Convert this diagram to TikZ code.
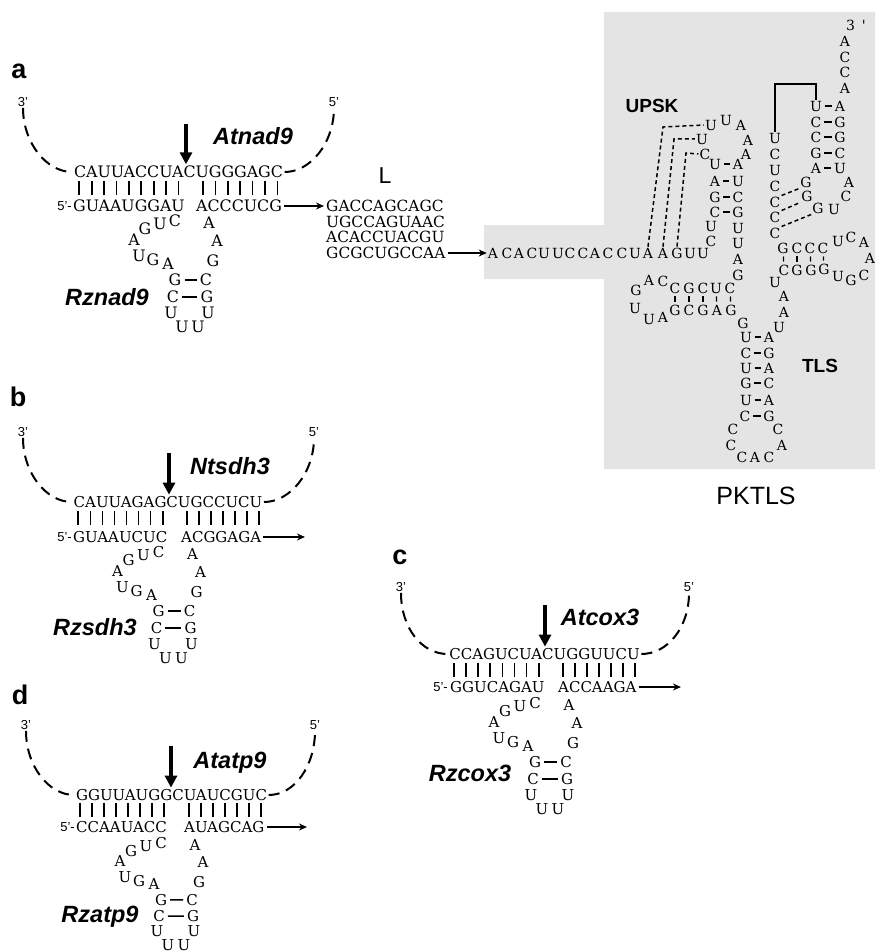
\documentclass[tikz,border=0pt]{standalone}
\usepackage{fontspec}
\setsansfont{Liberation Sans}
\newfontfamily\ntfont{DejaVu Serif}
\usetikzlibrary{arrows.meta,positioning}
\definecolor{pkgray}{HTML}{E4E4E4}
\tikzset{
  nt/.style={inner sep=1.5pt,font=\ntfont\fontsize{15}{15}\selectfont},
  pk/.style={inner sep=1pt,font=\ntfont\fontsize{14}{14}\selectfont},
  seqline/.style={nt,inner sep=0pt},
  endmark/.style={inner sep=1pt,font=\sffamily\fontsize{13}{13}\selectfont},
  panel/.style={inner sep=0pt,font=\sffamily\bfseries\fontsize{27}{27}\selectfont},
  gene/.style={inner sep=0pt,text depth=0pt,font=\sffamily\bfseries\itshape\fontsize{23.5}{23.5}\selectfont},
  boxlabel/.style={inner sep=0pt,font=\sffamily\bfseries\fontsize{19}{19}\selectfont},
  strand/.style={line width=2pt,dash pattern=on 11pt off 7pt},
  tick/.style={line width=1.7pt},
  pairline/.style={line width=1.5pt,shorten <=1.5pt,shorten >=1.5pt},
  stemtick/.style={line width=1.2pt,shorten <=2pt,shorten >=2pt},
  pkdash/.style={line width=1.5pt,dash pattern=on 4pt off 3pt},
  flow/.style={line width=1.4pt,-{Stealth[length=8pt,width=7pt]}},
  cut/.style={line width=3.2pt,-{Stealth[length=12pt,width=12pt,inset=0pt]}}
}
\newcommand{\hhmotif}[2]{
  \begin{scope}[#1]
    \foreach \nm/\xx/\yy/\ltr in {a/175/221/C,b/160/224/U,c/145/229/G,d/134/240/A,e/139/256/U,f/153/260/G,g/168/264/A,
      h/209/223/A,i/217/241/A,j/213/261/G,k/175/280/G,l/206/280/C,m/173/297/C,n/207/297/G,o/171/313/U,p/208/313/U,q/182/327/U,r/198/327/U}
      \node [nt] (#2\nm) at (\xx,\yy) {\ltr};
    \draw [pairline] (#2k) -- (#2l);
    \draw [pairline] (#2m) -- (#2n);
  \end{scope}
}
\newcommand{\hhstrand}[1]{
  \draw [strand] (#1three.south) .. controls +(0,35) and +(-26,0) .. (#1top.west);
  \draw [strand] (#1top.east) .. controls +(26,0) and +(0,35) .. (#1five.south);
}
\newcommand{\hhticks}[4]{
  \foreach \xx in {0,...,#3}
    \draw [tick] (#1+\xx*#2,#4) -- +(0,14);
}
\begin{document}
\begin{tikzpicture}[x=1pt,y=-1pt]
\useasboundingbox (0,0) rectangle (875,952);
\fill [pkgray] (604,12) -- (875,12) -- (875,469) -- (604,469) -- (604,279) -- (484,279) -- (484,225) -- (604,225) -- cycle;

% a
\begin{scope}[nt/.append style={font=\ntfont\fontsize{15.8}{15.8}\selectfont}]
\node [panel] (alabel) at (19,71) {a};
\node [endmark] (athree) at (23,102) {3'};
\node [endmark] (afive) at (334,102) {5'};
\node [nt] (atop) at (178.5,172) {CAUUACCUACUGGGAGC};
\node [seqline,anchor=west] (abotl) at (73,206) {GUAAUGGAU};
\node [seqline,anchor=west] (abotr) at (196,206) {ACCCUCG};
\node [endmark,left=0pt of abotl] (afivep) {5'-};
\node [gene] (agene) at (253,136) {Atnad9};
\node [gene] (arz) at (107,297) {Rznad9};
\coordinate (acut) at (186,124);
\hhstrand{a}
\hhticks{79.3}{12.4}{8}{181}
\hhticks{203}{12.4}{6}{181}
\draw [cut] (acut) -- (acut |- atop.north);
\hhmotif{shift={(0,0)}}{am}
\end{scope}

% L
\node [inner sep=0pt,font=\sffamily\fontsize{23}{23}\selectfont] (lname) at (385,176) {L};
\begin{scope}[nt/.append style={font=\ntfont\fontsize{15.4}{15.4}\selectfont}]
\node [seqline,anchor=west] (lone) at (326,206) {GACCAGCAGC};
\node [seqline,anchor=west] (ltwo) at (326,222) {UGCCAGUAAC};
\node [seqline,anchor=west] (lthree) at (326,237) {ACACCUACGU};
\node [seqline,anchor=west] (lfour) at (326,253) {GCGCUGCCAA};
\end{scope}
\draw [flow] ([xshift=2pt]abotr.east) -- ([xshift=-2pt]lone.west);

% b
\node [panel] (blabel) at (18,397) {b};
\node [endmark] (bthree) at (23,432) {3'};
\node [endmark] (bfive) at (314,432) {5'};
\node [nt] (btop) at (168,502) {CAUUAGAGCUGCCUCU};
\node [seqline,anchor=west] (bbotl) at (73,537) {GUAAUCUC};
\node [seqline,anchor=west] (bbotr) at (181,537) {ACGGAGA};
\node [endmark,left=0pt of bbotl] (bfivep) {5'-};
\node [gene] (bgene) at (230,466) {Ntsdh3};
\node [gene] (brz) at (95,627) {Rzsdh3};
\coordinate (bcut) at (169,453);
\coordinate (bend) at (305,537);
\hhstrand{b}
\hhticks{78.3}{12.05}{7}{511}
\hhticks{186.7}{12.05}{6}{511}
\draw [cut] (bcut) -- (bcut |- btop.north);
\draw [flow] ([xshift=2pt]bbotr.east) -- (bend);
\hhmotif{shift={(-16.5,331)}}{bm}

% c
\node [panel] (clabel) at (400,557) {c};
\node [endmark] (cthree) at (401,587) {3'};
\node [endmark] (cfive) at (689,587) {5'};
\node [nt] (ctop) at (544.5,654) {CCAGUCUACUGGUUCU};
\node [seqline,anchor=west] (cbotl) at (450,687) {GGUCAGAU};
\node [seqline,anchor=west] (cbotr) at (558,687) {ACCAAGA};
\node [endmark,left=1pt of cbotl] (cfivep) {5'-};
\node [gene] (cgene) at (600,617) {Atcox3};
\node [gene] (crz) at (470,773) {Rzcox3};
\coordinate (ccut) at (545,605);
\coordinate (cend) at (681,687);
\hhstrand{c}
\hhticks{454}{12.1}{7}{663}
\hhticks{562.7}{12}{6}{663}
\draw [cut] (ccut) -- (ccut |- ctop.north);
\draw [flow] ([xshift=2pt]cbotr.east) -- (cend);
\hhmotif{shift={(360,482)}}{cm}

% d
\node [panel] (dlabel) at (20,695) {d};
\node [endmark] (dthree) at (26,725) {3'};
\node [endmark] (dfive) at (315,725) {5'};
\node [nt] (dtop) at (171.5,795) {GGUUAUGGCUAUCGUC};
\node [seqline,anchor=west] (dbotl) at (76,827) {CCAAUACC};
\node [seqline,anchor=west] (dbotr) at (184,827) {AUAGCAG};
\node [endmark,left=0pt of dbotl] (dfivep) {5'-};
\node [gene] (dgene) at (230,760) {Atatp9};
\node [gene] (drz) at (100,914) {Rzatp9};
\coordinate (dcut) at (171,746);
\coordinate (dend) at (307,827);
\hhstrand{d}
\hhticks{80}{12}{7}{803}
\hhticks{189}{12}{6}{803}
\draw [cut] (dcut) -- (dcut |- dtop.north);
\draw [flow] ([xshift=2pt]dbotr.east) -- (dend);
\hhmotif{shift={(-14,631)},yscale=.96}{dm}

% PKTLS
\node [inner sep=0pt,font=\sffamily\fontsize{25}{25}\selectfont] (pkname) at (756,496) {PKTLS};
\node [boxlabel] (upsk) at (652,106) {UPSK};
\node [boxlabel] (tls) at (820,366) {TLS};
\node [pk] (pkend) at (856,25) {3 \,'};
\node [pk] (pkstart) at (493,253) {A};
\draw [flow] ([xshift=2pt]lfour.east) -- (pkstart.west);
\foreach \nm/\xx/\ltr in {s2/507/C,s3/519/A,s4/532/C,s5/544/U,s6/558/U,s7/570/C,s8/583/C,s9/595/A,s10/608/C,s11/622/C,s12/635/U,s13/648/A,s14/663/A,s15/677/G,s16/690/U,s17/703/U}
  \node [pk] (\nm) at (\xx,253) {\ltr};
\foreach \nm/\xx/\yy/\ltr in {e1/845/41/A,e2/845/57/C,e3/845/72/C,e4/845/88/A,
  ta1/816/106/U,tb1/840/106/A,ta2/816/122/C,tb2/840/122/G,ta3/816/137/C,tb3/840/137/G,ta4/816/153/G,tb4/840/153/C,ta5/816/168/A,tb5/840/168/U,
  f1/849/182/A,f2/846/196/C,f3/834/209/U,f4/818/208/G,f5/807/196/G,f6/806/182/G,
  g1/775/138/U,g2/775/154/C,g3/775/170/U,g4/775/186/C,g5/775/202/C,g6/775/217/C,g7/775/233/C,
  ca1/783/248/G,ca2/797/248/C,ca3/810/248/C,ca4/823/248/C,cb1/784/270/C,cb2/797/270/G,cb3/811/270/G,cb4/824/269/G,
  i1/838/241/U,i2/851/237/C,i3/864/242/A,i4/870/258/A,i5/864/275/C,i6/851/280/G,i7/838/276/U,
  j1/775/282/U,j2/784/296/A,j3/784/312/A,j4/779/327/U}
  \node [pk] (\nm) at (\xx,\yy) {\ltr};
\foreach \nm/\xx/\yy/\ltr in {k1/711/125/U,k2/726/120/U,k3/741/125/A,k4/748/140/A,k5/746/154/A,k6/702/139/U,k7/705/154/C,
  ha1/715/164/U,hb1/738/164/A,ha2/715/181/A,hb2/738/181/U,ha3/715/197/G,hb3/738/197/C,ha4/715/212/C,hb4/738/212/G,
  m1/711/226/U,m2/738/228/U,m3/711/241/C,m4/738/243/U,m5/738/259/A,m6/738/275/G,
  n1/649/280/A,n2/663/281/C,n3/636/290/G,n4/635/308/U,n5/649/319/U,n6/663/317/A,
  da1/675/288/C,da2/689/288/G,da3/703/288/C,da4/716/288/U,da5/730/288/C,db1/675/310/G,db2/689/310/C,db3/703/310/G,db4/717/310/A,db5/731/310/G,
  o1/743/323/G,la1/746/337/U,lb1/769/337/A,la2/746/353/C,lb2/769/353/G,la3/746/368/U,lb3/769/368/A,la4/746/383/G,lb4/769/383/C,la5/746/400/U,lb5/769/400/A,la6/745/416/C,lb6/769/416/G,
  q1/733/429/C,q2/731/445/C,q3/742/457/C,q4/755/457/A,q5/769/457/C,q6/782/445/A,q7/778/429/C}
  \node [pk] (\nm) at (\xx,\yy) {\ltr};
\foreach \aa in {1,...,5}
  \draw [pairline] (ta\aa) -- (tb\aa);
\foreach \aa in {1,...,4}
  \draw [pairline] (ha\aa) -- (hb\aa);
\foreach \aa in {1,...,6}
  \draw [pairline] (la\aa) -- (lb\aa);
\foreach \aa in {1,...,4}
  \draw [stemtick] (ca\aa) -- (cb\aa);
\foreach \aa in {1,...,5}
  \draw [stemtick] (da\aa) -- (db\aa);
\draw [pkdash] (s13.north) -- (663,127) -- (k1.west);
\draw [pkdash] (s14.north) -- (674,139) -- (k6.west);
\draw [pkdash] (s15.north) -- (686,153) -- (k7.west);
\draw [pkdash] (g5.north east) -- (f6.south west);
\draw [pkdash] (g6.north east) -- (f5.south west);
\draw [pkdash] (g7.north east) -- (f4.south west);
\coordinate (pkbend) at (776,84);
\draw [line width=1.6pt] (g1.north) |- (pkbend) -| (ta1.north);
\end{tikzpicture}
\end{document}
